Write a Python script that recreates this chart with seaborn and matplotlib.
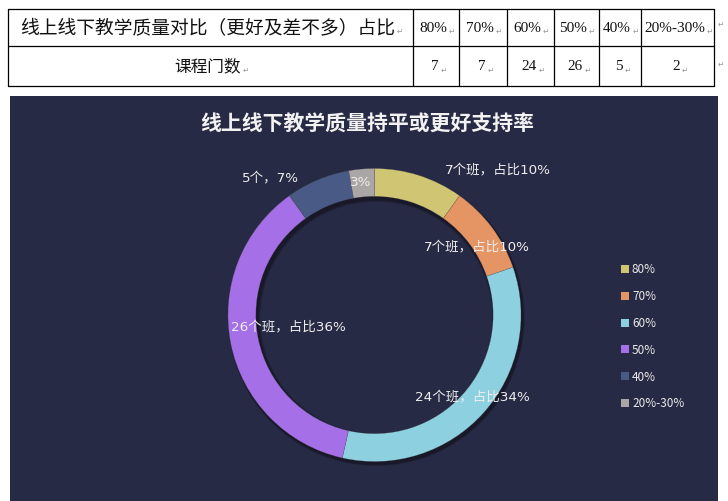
import matplotlib
matplotlib.use("Agg")
import matplotlib.pyplot as plt
from matplotlib.patches import Rectangle, Wedge
import seaborn as sns

# ---- data ----
categories = ["80%", "70%", "60%", "50%", "40%", "20%-30%"]
counts = [7, 7, 24, 26, 5, 2]
pie_labels = ["7个班，占比10%", "7个班，占比10%", "24个班，占比34%", "26个班，占比36%", "5个，7%", "3%"]
colors = ["#d0c573", "#e59463", "#8dd1e1", "#a56fe8", "#485a85", "#aaa6a6"]
table_header = "线上线下教学质量对比（更好及差不多）占比"
table_row = "课程门数"
title = "线上线下教学质量持平或更好支持率"

sns.set_theme(style="white")
plt.rcParams["font.family"] = ["Noto Sans CJK SC", "DejaVu Sans"]

W, H = 728, 502
fig = plt.figure(figsize=(W / 100, H / 100), dpi=100)
fig.patch.set_facecolor("white")

ov = fig.add_axes([0, 0, 1, 1])
ov.set_xlim(0, W)
ov.set_ylim(H, 0)
ov.axis("off")
renderer = fig.canvas.get_renderer()

mark = dict(color="#9a9a9a", fontsize=5.5, family=["DejaVu Sans"])


def add_mark(t, dy=3):
    bb = t.get_window_extent(renderer=renderer)
    x_right = bb.x1  # display pixels (dpi=100 -> same as data px horizontally)
    _, y = t.get_position()
    ov.text(x_right + 1.5, y + dy, "↵", va="center", ha="left", **mark)


# ---- table ----
lc = "black"
tx0, tx1, ty0, ty1, ty2 = 8, 714, 10, 47, 87
col_edges = [tx0, 413, 459, 507, 554, 599, 641, tx1]
for y in (ty0, ty1, ty2):
    ov.plot([tx0, tx1], [y, y], color=lc, lw=0.9)
for x in col_edges:
    ov.plot([x, x], [ty0, ty2], color=lc, lw=0.9)
th = ov.text(20, (ty0 + ty1) / 2, table_header, fontsize=13.5, va="center", ha="left", color="#111111")
add_mark(th)
tr = ov.text(208, (ty1 + ty2) / 2, table_row, fontsize=12, va="center", ha="center", color="#111111")
add_mark(tr)
for i, (c, n) in enumerate(zip(categories, counts)):
    x0, x1 = col_edges[i + 1], col_edges[i + 2]
    cx = (x0 + x1) / 2 - 3
    t1 = ov.text(cx, (ty0 + ty1) / 2, c, fontsize=11, va="center", ha="center",
                 color="#111111", family=["Liberation Serif"])
    add_mark(t1)
    t2 = ov.text(cx + 2, (ty1 + ty2) / 2, str(n), fontsize=11, va="center", ha="center",
                 color="#111111", family=["Liberation Serif"])
    add_mark(t2)
ov.text(718, 24, "↵", va="center", ha="left", **mark)
ov.text(718, 64, "↵", va="center", ha="left", **mark)

# ---- dark panel ----
bg = "#272a44"
ov.add_patch(Rectangle((10, 97), 708, 405, facecolor=bg, edgecolor="none", zorder=0))
ov.text(367, 124, title, fontsize=15, fontweight="bold", color="#f2f2f2", ha="center", va="center")

# ---- donut ----
cx, cy, R = 374.5, 316, 146.5
pad = 1.03
ax = fig.add_axes([(cx - R * pad) / W, (H - cy - R * pad) / H, 2 * R * pad / W, 2 * R * pad / H])
ax.set_facecolor("none")
ring_w = 0.19
for k, a in [(0.035, 0.10), (0.025, 0.14), (0.015, 0.20)]:
    ax.add_patch(Wedge((0.012, -0.018), 1 + k * 0.4, 0, 360, width=ring_w + k,
                       facecolor="black", edgecolor="none", alpha=a, zorder=0))
wedges, _ = ax.pie(counts, colors=colors, startangle=90, counterclock=False,
                   radius=1.0, wedgeprops=dict(width=ring_w, linewidth=0.3, edgecolor="#55555580"))
for w in wedges:
    w.set_zorder(2)
ax.set_xlim(-pad, pad)
ax.set_ylim(-pad, pad)
ax.set_aspect("equal")
ax.axis("off")

# ---- labels & legend (top overlay) ----
top = fig.add_axes([0, 0, 1, 1])
top.set_xlim(0, W)
top.set_ylim(H, 0)
top.axis("off")
top.set_facecolor("none")
label_pos = [(498, 170), (477, 247), (472, 397), (288, 327), (270, 178), (361, 183)]
for (lx, ly), t in zip(label_pos, pie_labels):
    top.text(lx, ly, t, fontsize=9.7, color="#eeeeee", ha="center", va="center",
             family=["DejaVu Sans", "Noto Sans CJK SC"])

for i, (c, col) in enumerate(zip(categories, colors)):
    y = 270 + i * 26.8
    top.add_patch(Rectangle((621, y - 4), 8, 8, facecolor=col, edgecolor="none"))
    top.text(632, y, c, fontsize=8.5, color="#e8e8e8", ha="left", va="center")

fig.savefig("out.png", dpi=100, facecolor=fig.get_facecolor())
